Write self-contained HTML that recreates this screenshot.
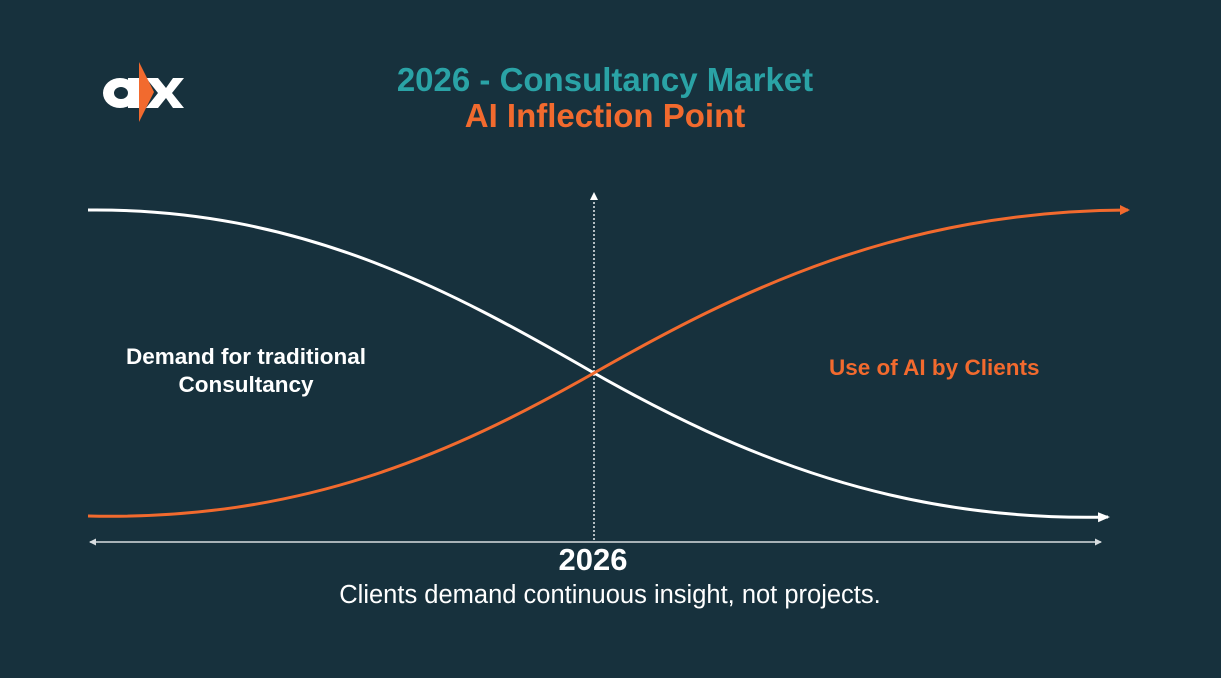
<!DOCTYPE html>
<html><head><meta charset="utf-8"><style>
body{margin:0;background:#17313d;}
.w{position:relative;width:1221px;height:678px;overflow:hidden;background:#17313d;font-family:"Liberation Sans",Arial,sans-serif;}
.t{position:absolute;white-space:nowrap;}
</style></head><body><div class="w">
<svg width="1221" height="678" style="position:absolute;left:0;top:0">
<defs>
<marker id="aw" markerWidth="8" markerHeight="8" refX="6" refY="4" orient="auto" markerUnits="userSpaceOnUse"><path d="M0,0 L8,4 L0,8 z" fill="#fff"/></marker>
<marker id="ao" markerWidth="10" markerHeight="10" refX="8" refY="5" orient="auto" markerUnits="userSpaceOnUse"><path d="M0,0 L10,5 L0,10 z" fill="#f26a2e"/></marker>
<marker id="aw2" markerWidth="12" markerHeight="12" refX="10" refY="6" orient="auto" markerUnits="userSpaceOnUse"><path d="M0,1 L12,6 L0,11 z" fill="#fff"/></marker>
<marker id="ag" markerWidth="7" markerHeight="7" refX="6" refY="3.5" orient="auto-start-reverse" markerUnits="userSpaceOnUse"><path d="M0,0 L7,3.5 L0,7 z" fill="#d8dde0"/></marker>
</defs>
<!-- logo -->
<path d="M103,93 a17,15 0 1 0 34,0 a17,15 0 1 0 -34,0 z M114,93 a7,6 0 1 1 14,0 a7,6 0 1 1 -14,0 z" fill="#fff" fill-rule="evenodd"/>
<rect x="128" y="78" width="11" height="30" fill="#fff"/>
<path d="M146,78 L158,78 L166,88 L173,78 L184,78 L172,93 L184,108 L173,108 L166,98 L158,108 L146,108 L158,93 z" fill="#fff"/>
<path d="M139,62 L154,92 L139,122 z" fill="#f26a2e"/>
<line x1="594" y1="540" x2="594" y2="194" stroke="#e8ecee" stroke-width="1.5" stroke-dasharray="2,2" marker-end="url(#aw)"/>
<line x1="90" y1="542" x2="1101" y2="542" stroke="#d8dde0" stroke-width="1.5" marker-start="url(#ag)" marker-end="url(#ag)"/>
<path d="M88,210 C300,208 450,290 594,373 C740,456 900,522 1108,517" fill="none" stroke="#fff" stroke-width="3" marker-end="url(#aw2)"/>
<path d="M88,516 C300,521 450,455 594,373 C740,290 900,211 1128,210" fill="none" stroke="#f26a2e" stroke-width="3" marker-end="url(#ao)"/>
</svg>
<div class="t" style="left:0;width:1210px;text-align:center;top:61px;font-size:33px;font-weight:bold;color:#2aa3a6">2026 - Consultancy Market</div>
<div class="t" style="left:0;width:1210px;text-align:center;top:97px;font-size:33px;font-weight:bold;color:#f26a2e">AI Inflection Point</div>
<div class="t" style="left:96px;width:300px;text-align:center;top:343px;font-size:22.5px;font-weight:bold;color:#fff;line-height:28px">Demand for traditional<br>Consultancy</div>
<div class="t" style="left:829px;top:355px;font-size:22.5px;font-weight:bold;color:#f26a2e">Use of AI by Clients</div>
<div class="t" style="left:0;width:1186px;text-align:center;top:542px;font-size:31px;font-weight:bold;color:#fff">2026</div>
<div class="t" style="left:0;width:1220px;text-align:center;top:581px;font-size:25.5px;color:#fff">Clients demand continuous insight, not projects.</div>
</div></body></html>
